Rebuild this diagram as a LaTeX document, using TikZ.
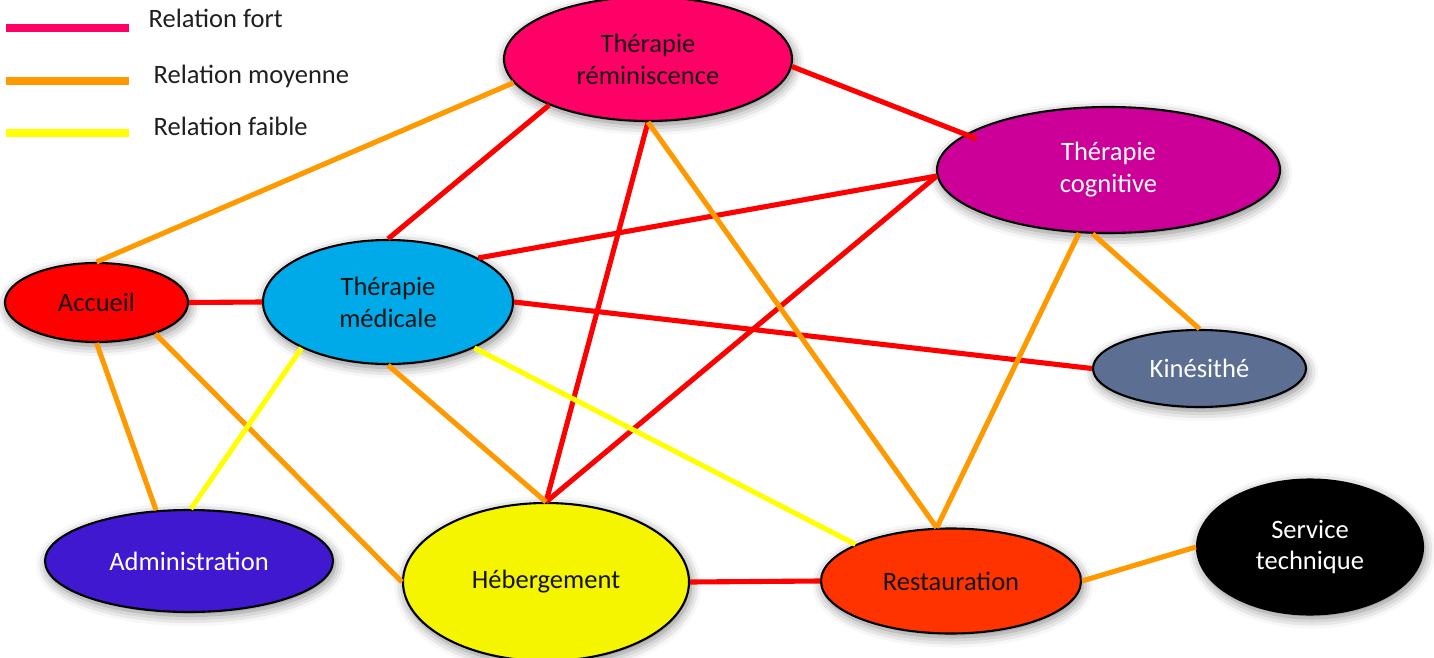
\documentclass[tikz,border=0pt]{standalone}
\usepackage{fontspec}
\setmainfont{Carlito}
\usetikzlibrary{shapes.geometric,shadows.blur}
\definecolor{cRem}{RGB}{255,0,102}
\definecolor{cCog}{RGB}{204,0,153}
\definecolor{cAcc}{RGB}{255,0,0}
\definecolor{cMed}{RGB}{0,170,232}
\definecolor{cKin}{RGB}{92,111,146}
\definecolor{cAdm}{RGB}{63,24,208}
\definecolor{cHeb}{RGB}{245,245,0}
\definecolor{cRes}{RGB}{255,51,0}
\definecolor{rFort}{RGB}{255,0,0}
\definecolor{rMoy}{RGB}{255,153,0}
\definecolor{rFaible}{RGB}{255,255,0}

\begin{document}
\begin{tikzpicture}[font=\fontsize{7.55}{9.1}\selectfont,
  el/.style={ellipse,draw=black,line width=0.6pt,inner sep=0pt,align=center,text=black!92,
    blur shadow={shadow xshift=0.5pt,shadow yshift=-1pt,shadow blur radius=3pt,shadow opacity=50}},
  fo/.style={line width=1.45pt,draw=rFort},
  mo/.style={line width=1.45pt,draw=rMoy},
  fa/.style={line width=1.45pt,draw=rFaible},
  leg/.style={line width=2.3pt}]
  \useasboundingbox (0,0) rectangle (14.34,-6.58);

  % legend
  \draw[leg,cRem] (0.06,-0.28) -- (1.29,-0.28);
  \draw[leg,rMoy] (0.06,-0.81) -- (1.29,-0.81);
  \draw[leg,rFaible] (0.06,-1.33) -- (1.29,-1.33);
  \node[anchor=base west,inner sep=0pt,text=black!88] (lfo) at (1.48,-0.27) {Relation fort};
  \node[anchor=base west,inner sep=0pt,text=black!88] (lmo) at (1.53,-0.84) {Relation moyenne};
  \node[anchor=base west,inner sep=0pt,text=black!88] (lfa) at (1.53,-1.35) {Relation faible};

  % services
  \node[el,fill=cRem,minimum width=2.88cm,minimum height=1.24cm] (rem) at (6.48,-0.59) {Thérapie\\réminiscence};
  \node[el,fill=cCog,text=white,minimum width=3.43cm,minimum height=1.26cm] (cog) at (11.085,-1.70) {Thérapie\\cognitive};
  \node[el,fill=cAcc,minimum width=1.83cm,minimum height=0.79cm] (acc) at (0.965,-3.025) {Accueil};
  \node[el,fill=cMed,minimum width=2.50cm,minimum height=1.24cm] (med) at (3.88,-3.02) {Thérapie\\médicale};
  \node[el,fill=cKin,text=white,minimum width=2.13cm,minimum height=0.77cm] (kin) at (11.995,-3.685) {Kinésithé};
  \node[el,fill=cAdm,text=white,minimum width=2.88cm,minimum height=1.02cm] (adm) at (1.89,-5.61) {Administration};
  \node[el,fill=cHeb,minimum width=2.86cm,minimum height=1.58cm] (heb) at (5.46,-5.82) {Hébergement};
  \node[el,fill=cRes,minimum width=2.60cm,minimum height=1.05cm] (res) at (9.51,-5.81) {Restauration};
  \node[el,fill=black,text=white,minimum width=2.26cm,minimum height=1.35cm] (tec) at (13.10,-5.47) {Service\\technique};

  % relations
  \foreach \u/\w in {rem.205/med.north,rem.270/heb.north,med.26/cog.182,heb.north/cog.182,
                     acc.east/med.west,med.east/kin.west,heb.east/res.west}
    \draw[fo] (\u) -- (\w);
  \draw[fo,shorten >=-0.12cm] (rem.357) -- (cog.166);
  \foreach \u/\w in {rem.190/acc.north,rem.270/res.105,cog.245/res.105,cog.256/kin.north,
                     acc.south/adm.123,acc.332/heb.west,med.south/heb.north,res.east/tec.west}
    \draw[mo] (\u) -- (\w);
  \foreach \u/\w in {med.208/adm.88,med.332/res.159}
    \draw[fa] (\u) -- (\w);
\end{tikzpicture}
\end{document}
